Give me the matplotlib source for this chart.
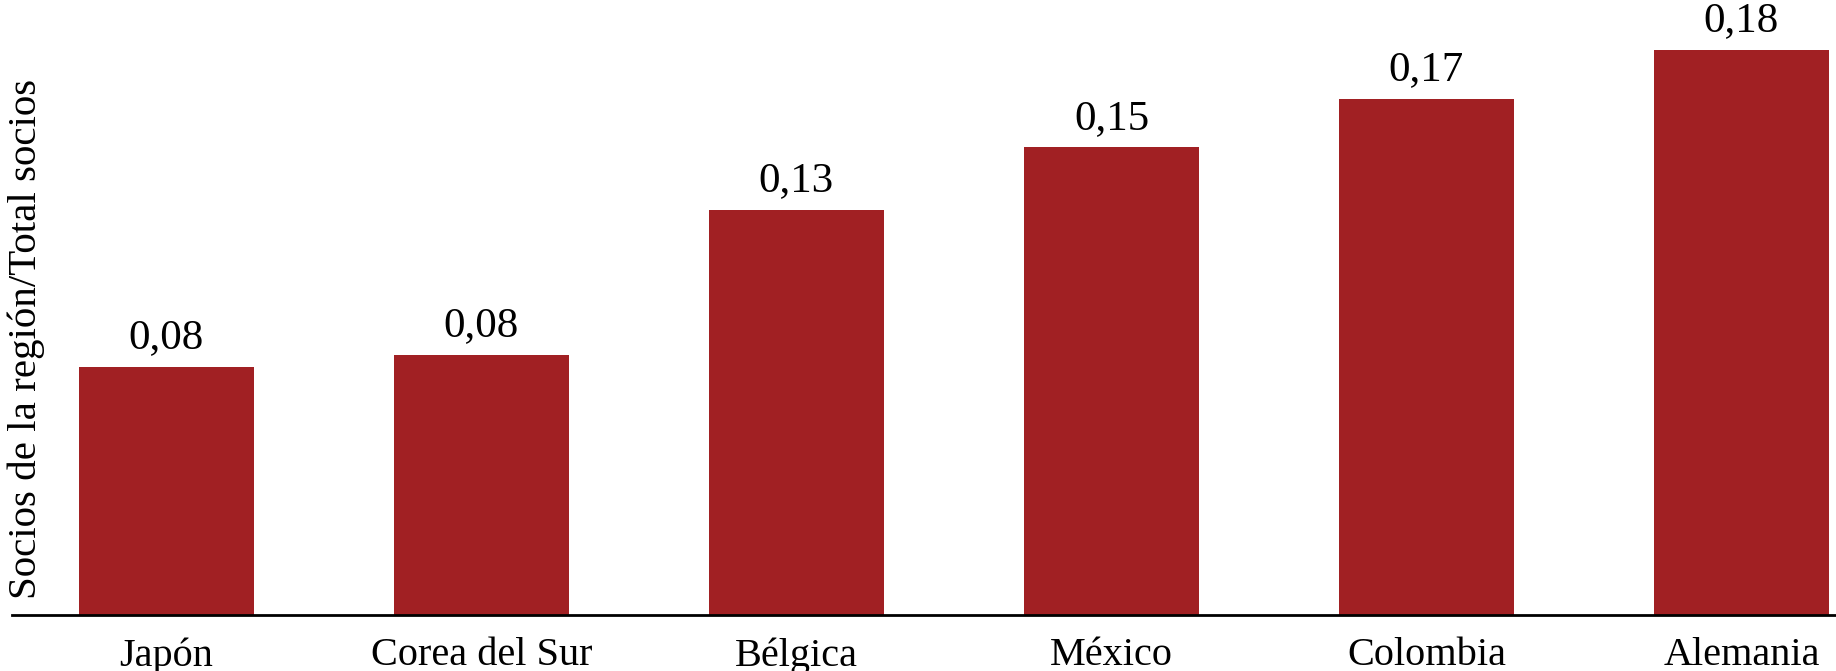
import matplotlib
matplotlib.use('Agg')
import matplotlib.pyplot as plt

paises = ['Japón', 'Corea del Sur', 'Bélgica', 'México', 'Colombia', 'Alemania']
valores = [0.079, 0.083, 0.129, 0.149, 0.1645, 0.18]
etiquetas = ['0,08', '0,08', '0,13', '0,15', '0,17', '0,18']

plt.rcParams['font.family'] = ['Liberation Serif', 'DejaVu Serif']

fig = plt.figure(figsize=(18.36, 6.71), dpi=100)
ax = fig.add_axes([12 / 1836, 1 - 615 / 671, 1 - 12 / 1836, 615 / 671])

x = list(range(len(paises)))
barras = ax.bar(x, valores, width=0.555, color='#A12023')

for b, t in zip(barras, etiquetas):
    ax.annotate(t, (b.get_x() + b.get_width() / 2, b.get_height()),
                xytext=(0, 7), textcoords='offset points',
                ha='center', va='bottom', fontsize=31)

ax.set_xlim(-0.49, 5.30)
ax.set_ylim(0, 0.196)
ax.set_xticks(x)
ax.set_xticklabels(paises, fontsize=29)
ax.tick_params(axis='x', length=0, pad=16)
ax.set_yticks([])
for s in ['top', 'right', 'left']:
    ax.spines[s].set_visible(False)
ax.spines['bottom'].set_linewidth(2)
ax.spines['bottom'].set_color('black')

fig.text(26 / 1836, 1 - 339 / 671, 'Socios de la región/Total socios',
         rotation=90, ha='center', va='center', fontsize=29.5)

fig.savefig('out.png', dpi=100)
